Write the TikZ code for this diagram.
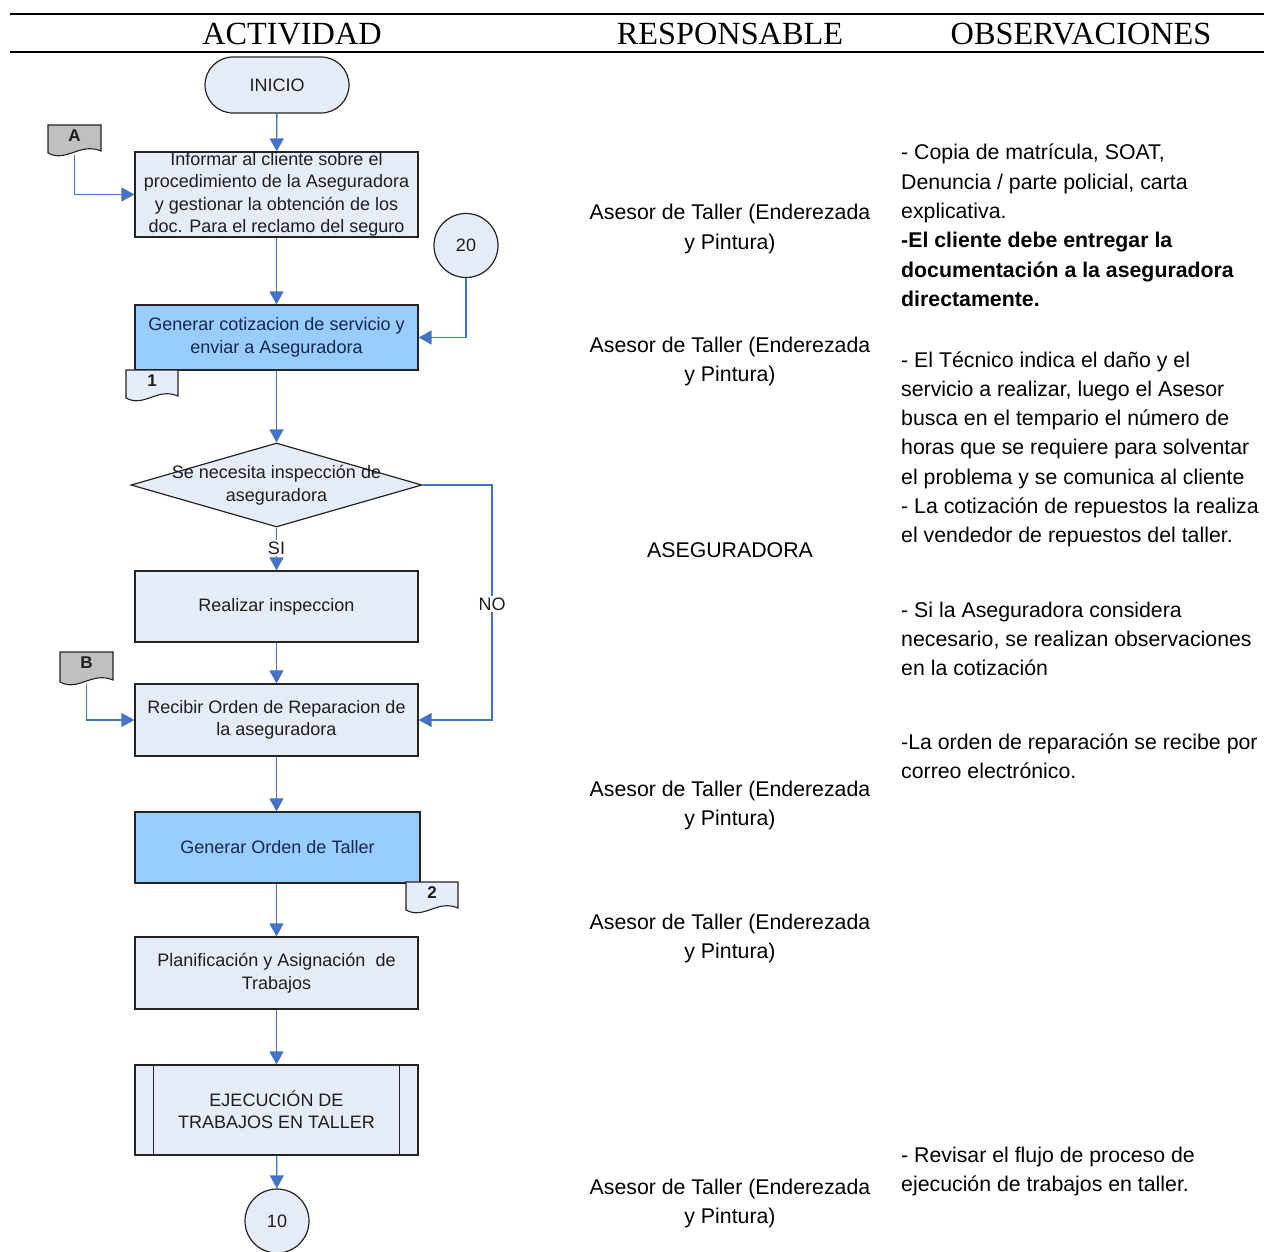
\documentclass[tikz,border=0pt]{standalone}
\usepackage{fontspec}
\setmainfont{Liberation Sans}
\newfontfamily\hdrfont{Liberation Serif}
\usetikzlibrary{arrows.meta,shapes.geometric,calc}
\definecolor{lightfill}{RGB}{230,236,247}
\definecolor{bluefill}{RGB}{153,204,255}
\definecolor{docgrey}{RGB}{192,192,192}
\definecolor{arrowblue}{RGB}{68,114,196}
\definecolor{boxline}{RGB}{35,35,35}
\definecolor{flowink}{RGB}{30,30,30}
\tikzset{
  flowtext/.style={font=\fontsize{18}{22.5}\selectfont, text=flowink, align=center},
  procbox/.style={flowtext, draw=boxline, line width=1.2pt, fill=lightfill, minimum width=283pt, inner sep=0pt},
  bluebox/.style={procbox, fill=bluefill, text={rgb,255:red,20;green,40;blue,80}},
  termnode/.style={flowtext, draw=boxline, line width=1.2pt, fill=lightfill, minimum width=144pt, minimum height=56pt, rounded corners=28pt, inner sep=0pt},
  connnode/.style={flowtext, circle, draw=boxline, line width=1.2pt, fill=lightfill, minimum size=64pt, inner sep=0pt},
  decnode/.style={diamond, draw=boxline, line width=1.2pt, fill=lightfill, minimum width=291pt, minimum height=84pt, inner sep=0pt},
  docline/.style={draw=boxline, line width=1.1pt},
  flow/.style={draw=arrowblue, line width=1.3pt, -{Triangle[width=14pt,length=13pt]}},
  edgelabel/.style={font=\fontsize{18}{20}\selectfont, text=flowink, fill=white, inner sep=1.5pt},
  bodytext/.style={font=\fontsize{21.3}{29.3}\selectfont, inner sep=0pt},
  headtext/.style={font=\hdrfont\fontsize{32.3}{34}\selectfont, inner sep=0pt, anchor=base},
  hrule/.style={draw=black, line width=1.3pt}
}
% document shape: name, x1, y1, x2, y2, fill, text
\newcommand\docshape[7]{%
  \draw[docline, fill=#6] (#2,#3) -- (#4,#3) -- (#4,#5-7)
    .. controls ({#2+0.6*(#4-#2)},#5-16) and ({#2+0.35*(#4-#2)},#5+5) .. (#2,#5-5) -- cycle;
  \node[font=\fontsize{17}{18}\selectfont\bfseries, text=flowink, inner sep=0pt] (#1) at ({(#2+#4)/2},#3+11) {#7};
  \coordinate (#1-b) at ({(#2+#4)/2},#5-3);
}
\newcommand\resptext[2]{%
  \node[bodytext, anchor=base] (#1a) at (730,#2) {Asesor de Taller (Enderezada};
  \node[bodytext, anchor=base] (#1b) at (730,#2+29.3) {y Pintura)};
}
\newcommand\obslines[3]{%
  \foreach \t [count=\i from 0] in {#3} {
    \node[bodytext, anchor=base west, name=#1\i] at (901,{#2+\i*29.3}) {\t};
  }
}
\begin{document}
\begin{tikzpicture}[x=1pt,y=-1pt]
\useasboundingbox (0,0) rectangle (1264,1252);

% header
\draw[hrule] (10,14) -- (1264,14);
\draw[hrule] (10,52) -- (1264,52);
\node[headtext] (hact) at (292,44.5) {ACTIVIDAD};
\node[headtext] (hresp) at (730,44.5) {RESPONSABLE};
\node[headtext] (hobs) at (1081,44.5) {OBSERVACIONES};

% flowchart nodes
\node[termnode] (inicio) at (277,85) {INICIO};
\node[procbox, minimum height=85pt] (b1) at (276.5,194.5) {Informar al cliente sobre el\\procedimiento de la Aseguradora\\y gestionar la obtención de los\\doc. Para el reclamo del seguro};
\node[connnode] (c20) at (466,245.5) {20};
\node[bluebox, minimum height=65pt] (b2) at (276.5,337.5) {Generar cotizacion de servicio y\\enviar a Aseguradora};
\node[decnode] (dia) at (276.5,485) {};
\node[flowtext] (diatext) at (276.5,485) {Se necesita inspección de\\aseguradora};
\node[procbox, minimum height=71pt] (b3) at (276.5,606.5) {Realizar inspeccion};
\node[procbox, minimum height=72pt] (b4) at (276.5,720) {Recibir Orden de Reparacion de\\la aseguradora};
\node[bluebox, minimum height=71pt, minimum width=285pt] (b5) at (277.5,847.5) {Generar Orden de Taller};
\node[procbox, minimum height=72pt] (b6) at (276.5,973) {Planificación y Asignación \ de\\Trabajos};
\node[procbox, minimum height=90pt] (b7) at (276.5,1110) {EJECUCIÓN DE\\TRABAJOS EN TALLER};
\draw[docline] ($(b7.north west)+(19,0)$) -- ($(b7.south west)+(19,0)$);
\draw[docline] ($(b7.north east)+(-19,0)$) -- ($(b7.south east)+(-19,0)$);
\node[connnode] (c10) at (277,1221) {10};

% documents
\docshape{docA}{48}{125}{101}{158}{docgrey}{A}
\docshape{docB}{60}{652}{113}{687}{docgrey}{B}
\docshape{doc1}{126}{370}{178}{403}{lightfill}{1}
\docshape{doc2}{406}{882}{458}{915}{lightfill}{2}

% connectors
\draw[flow] (inicio) -- (b1);
\draw[flow] (docA-b) |- (b1.west);
\draw[flow] (b1) -- (b2);
\draw[flow] (c20.south) |- (b2.east);
\draw[flow] (b2) -- (dia);
\draw[flow] (dia.south) -- (b3.north);
\node[edgelabel] (silbl) at (276.5,548) {SI};
\coordinate (noturn) at (492,485);
\draw[flow] (dia.east) -- (noturn) |- (b4.east);
\node[edgelabel] (nolbl) at (492,604) {NO};
\draw[flow] (b3) -- (b4);
\draw[flow] (docB-b) |- (b4.west);
\draw[flow] (b4.south) -- (b4.south |- b5.north);
\draw[flow] (b6.north |- b5.south) -- (b6.north);
\draw[flow] (b6) -- (b7);
\draw[flow] (b7) -- (c10);

% responsables
\resptext{r1}{220}
\resptext{r2}{352}
\node[bodytext, anchor=base] (r3) at (730,557) {ASEGURADORA};
\resptext{r4}{796}
\resptext{r5}{929}
\resptext{r6}{1194}

% observaciones
\obslines{oa}{160}{{- Copia de matrícula, SOAT,},{Denuncia / parte policial, carta},{explicativa.},{\textbf{-El cliente debe entregar la}},{\textbf{documentación a la aseguradora}},{\textbf{directamente.}}}
\obslines{ob}{367}{{- El Técnico indica el daño y el},{servicio a realizar, luego el Asesor},{busca en el tempario el número de},{horas que se requiere para solventar},{el problema y se comunica al cliente},{- La cotización de repuestos la realiza},{el vendedor de repuestos del taller.}}
\obslines{oc}{617}{{- Si la Aseguradora considera},{necesario, se realizan observaciones},{en la cotización}}
\obslines{od}{749}{{-La orden de reparación se recibe por},{correo electrónico.}}
\obslines{oe}{1162}{{- Revisar el flujo de proceso de},{ejecución de trabajos en taller.}}
\end{tikzpicture}
\end{document}
